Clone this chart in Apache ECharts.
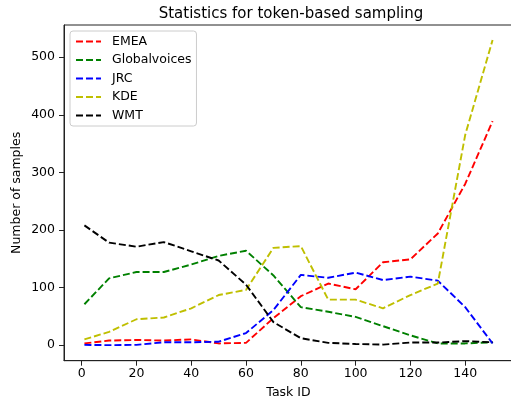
<!DOCTYPE html>
<html><head><meta charset="utf-8">
<script src="https://cdn.jsdelivr.net/npm/echarts@6/dist/echarts.min.js"></script>
<style>html,body{margin:0;padding:0;background:#fff}#c{width:511px;height:399px}</style>
</head><body><div id="c"></div>
<script>
const taskIds = [1,10,20,30,40,50,60,70,80,90,100,110,120,130,140,150];
const emea = [3, 8, 9, 8, 10, 3, 4, 47, 85, 107, 97, 144, 149, 194, 280, 389];
const globalvoices = [71, 116, 127, 127, 140, 155, 164, 121, 66, 58, 49, 33, 17, 3, 3, 5];
const jrc = [0.5, 0, 0.5, 5, 5, 6, 21, 61, 122, 117, 126, 113, 119, 112, 66, 3];
const kde = [10, 23, 45, 48, 64, 87, 96, 169, 172, 79, 79, 64, 87, 107, 365, 530];
const wmt = [208, 178, 171, 179, 163, 147, 105, 40, 12, 4, 2, 1, 4.5, 4.5, 7, 5];
const xTicks = [0,20,40,60,80,100,120,140];
const yTicks = [0,100,200,300,400,500];
const seriesNames = ['EMEA','Globalvoices','JRC','KDE','WMT'];
const seriesData = [emea, globalvoices, jrc, kde, wmt];
const colors = ['#ff0000','#008000','#0000ff','#bfbf00','#000000'];
const FONT = 'DejaVu Sans';

const chart = echarts.init(document.getElementById('c'), null, {renderer:'canvas'});
chart.setOption({
  animation: false,
  backgroundColor: '#fff',
  title: {
    text: 'Statistics for token-based sampling',
    left: 286, top: 2, textAlign: 'center',
    textStyle: {fontFamily: FONT, fontSize: 15, fontWeight: 'normal', color: '#000'}
  },
  legend: {
    orient: 'vertical', left: 70, top: 31,
    padding: [4, 5, 4, 5], itemGap: 5.5, itemWidth: 25, itemHeight: 13,
    borderColor: '#cccccc', borderWidth: 1, borderRadius: 3,
    backgroundColor: 'rgba(255,255,255,0.8)',
    itemStyle: {opacity: 0},
    textStyle: {fontFamily: FONT, fontSize: 12.5, color: '#000', padding: [0,0,0,6]},
    data: seriesNames
  },
  grid: {left: 64, top: 25, right: -2, bottom: 38.3, show: true, borderColor: '#222', borderWidth: 1, outerBoundsMode: 'none'},
  xAxis: {
    type: 'value', min: -6.45, max: 157.45,
    name: 'Task ID', nameLocation: 'middle', nameGap: 26, nameMoveOverlap: false,
    nameTextStyle: {fontFamily: FONT, fontSize: 12.5, color: '#000'},
    axisLine: {show: true, onZero: false, lineStyle: {color: '#222'}},
    axisTick: {show: true, length: 5, lineStyle: {color: '#222'}, customValues: xTicks},
    axisLabel: {fontFamily: FONT, fontSize: 12.5, color: '#000', margin: 7, customValues: xTicks},
    splitLine: {show: false}
  },
  yAxis: {
    type: 'value', min: -27, max: 556,
    name: 'Number of samples', nameLocation: 'middle', nameGap: 41, nameMoveOverlap: false,
    nameTextStyle: {fontFamily: FONT, fontSize: 12.5, color: '#000'},
    axisLine: {show: true, onZero: false, lineStyle: {color: '#222'}},
    axisTick: {show: true, length: 5, lineStyle: {color: '#222'}, customValues: yTicks},
    axisLabel: {fontFamily: FONT, fontSize: 12.5, color: '#000', margin: 9, customValues: yTicks},
    splitLine: {show: false}
  },
  series: seriesNames.map((n, i) => ({
    name: n, type: 'line', symbol: 'none',
    data: taskIds.map((x, j) => [x, seriesData[i][j]]),
    itemStyle: {color: colors[i]},
    lineStyle: {color: colors[i], width: 1.9, type: [7, 3]}
  }))
});
</script></body></html>
